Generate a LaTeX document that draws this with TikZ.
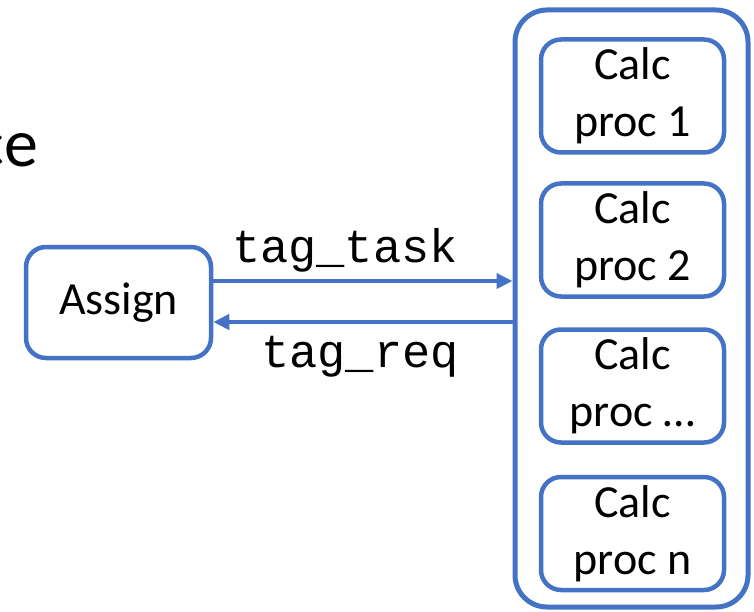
\documentclass[tikz,border=0pt]{standalone}
\usepackage{fontspec}
\setmainfont{Carlito}
\setmonofont{Liberation Mono}
\usetikzlibrary{arrows.meta}
\definecolor{boxblue}{HTML}{4472C4}
\tikzset{
  procbox/.style={draw=boxblue, line width=4.5pt, rounded corners=20pt,
    minimum width=183pt, minimum height=113pt, inner sep=0pt,
    align=center, font=\fontsize{46}{57}\selectfont},
  groupbox/.style={draw=boxblue, line width=5pt, rounded corners=32pt,
    minimum width=233pt, minimum height=597pt, inner sep=0pt},
  msgarrow/.style={draw=boxblue, line width=4pt,
    -{Triangle[length=16pt,width=15pt]}},
  msglabel/.style={font=\fontsize{47}{50}\ttfamily, anchor=base, inner sep=0pt}
}
\begin{document}
\begin{tikzpicture}[x=1pt,y=-1pt]
  \useasboundingbox (0,0) rectangle (754,612);
  % partly visible heading on the left edge
  \node[font=\fontsize{68}{80}\selectfont, anchor=base east, inner sep=0pt] (heading) at (38.5,167) {ce};
  % worker group with its calculation processes
  \node[groupbox] (outer) at (631.5,308.5) {};
  \node[procbox] (p1) at (632.5,96) {Calc\\proc 1};
  \node[procbox] (p2) at (632.5,240) {Calc\\proc 2};
  \node[procbox] (p3) at (632.5,386) {Calc\\proc \dots};
  \node[procbox] (p4) at (632.5,533.5) {Calc\\proc n};
  % dispatcher
  \node[procbox, minimum width=185pt, minimum height=111pt] (assign) at (118.5,302.5) {Assign};
  % message channels
  \coordinate (taskstart) at ([yshift=21.5pt]assign.east);
  \coordinate (reqstart) at ([yshift=-19.5pt]outer.west |- assign.east);
  \draw[msgarrow] (taskstart) -- (taskstart -| outer.west);
  \draw[msgarrow] (reqstart) -- (reqstart -| assign.east);
  \node[msglabel] (lbltask) at (345,262) {tag\_task};
  \node[msglabel] (lblreq) at (360,367) {tag\_req};
\end{tikzpicture}
\end{document}
